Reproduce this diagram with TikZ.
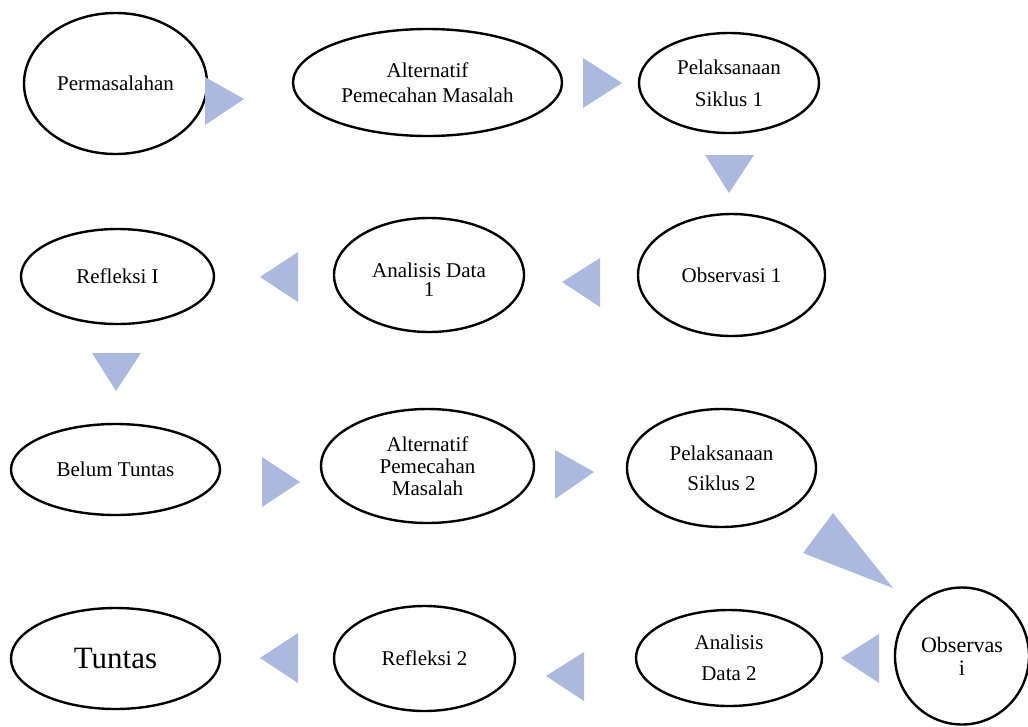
\documentclass[tikz,border=0pt]{standalone}
\usepackage{fontspec}
\setmainfont{Liberation Serif}
\usetikzlibrary{shapes.geometric}
\definecolor{arrfill}{RGB}{172,185,222}
\newcommand{\fsz}[2]{\fontsize{#1}{#2}\selectfont\lineskiplimit=-100pt\relax}
\begin{document}
\begin{tikzpicture}[x=1pt,y=-1pt,
  oval/.style={ellipse,draw=black,line width=2.4pt,inner sep=0pt,align=center,font=\fsz{21}{25}},
  tri/.style={fill=arrfill}]
\useasboundingbox (0,0) rectangle (1028,726);
% row 1
\node[oval,minimum width=183,minimum height=141] (perm) at (115.5,83.5) {Permasalahan};
\node[oval,minimum width=269,minimum height=107] (alt1) at (427.5,82.5) {Alternatif\\Pemecahan Masalah};
\node[oval,minimum width=180,minimum height=100,font=\fsz{21}{32}] (pel1) at (729,83) {Pelaksanaan\\Siklus 1};
% row 2
\node[oval,minimum width=193,minimum height=95] (ref1) at (117.5,276.5) {Refleksi I};
\node[oval,minimum width=190,minimum height=114] (ad1) at (429,275) {};
\node[font=\fsz{21}{19},align=center,inner sep=0pt] (ad1t) at ([yshift=-5pt]ad1.center) {Analisis Data\\1};
\node[oval,minimum width=187,minimum height=122] (obs1) at (731.5,275) {Observasi 1};
% row 3
\node[oval,minimum width=209,minimum height=91] (belum) at (115.5,469.5) {Belum Tuntas};
\node[oval,minimum width=213,minimum height=114,font=\fsz{21}{22}] (alt2) at (427.5,466) {Alternatif\\Pemecahan\\Masalah};
\node[oval,minimum width=189,minimum height=118,font=\fsz{21}{30}] (pel2) at (721.5,468) {Pelaksanaan\\Siklus 2};
% row 4
\node[oval,minimum width=209,minimum height=101,font=\fsz{31}{36}] (tuntas) at (115.5,658.5) {Tuntas};
\node[oval,minimum width=181,minimum height=105] (ref2) at (424.5,658.5) {Refleksi 2};
\node[oval,minimum width=186,minimum height=96,font=\fsz{21}{31}] (ad2) at (729,658) {Analisis\\Data 2};
\node[oval,minimum width=134,minimum height=137,font=\fsz{22}{23}] (obs2) at (962,656) {Observas\\i};
% triangle arrows
\fill[tri] (205,77) -- (244,99) -- (205,125) -- cycle;
\fill[tri] (583,58) -- (622,83) -- (583,108) -- cycle;
\fill[tri] (705,155) -- (754,155) -- (729,193) -- cycle;
\fill[tri] (298,252) -- (260,277) -- (298,302) -- cycle;
\fill[tri] (600,258) -- (562,282) -- (600,307) -- cycle;
\fill[tri] (92,353) -- (141,353) -- (116,391) -- cycle;
\fill[tri] (262,457) -- (300,482) -- (262,507) -- cycle;
\fill[tri] (555,450) -- (594,472) -- (555,499) -- cycle;
\fill[tri] (833,513) -- (893,588) -- (803,553) -- cycle;
\fill[tri] (298,633) -- (260,658) -- (298,683) -- cycle;
\fill[tri] (584,652) -- (546,676) -- (584,701) -- cycle;
\fill[tri] (879,634) -- (841,658) -- (879,683) -- cycle;
\end{tikzpicture}
\end{document}
